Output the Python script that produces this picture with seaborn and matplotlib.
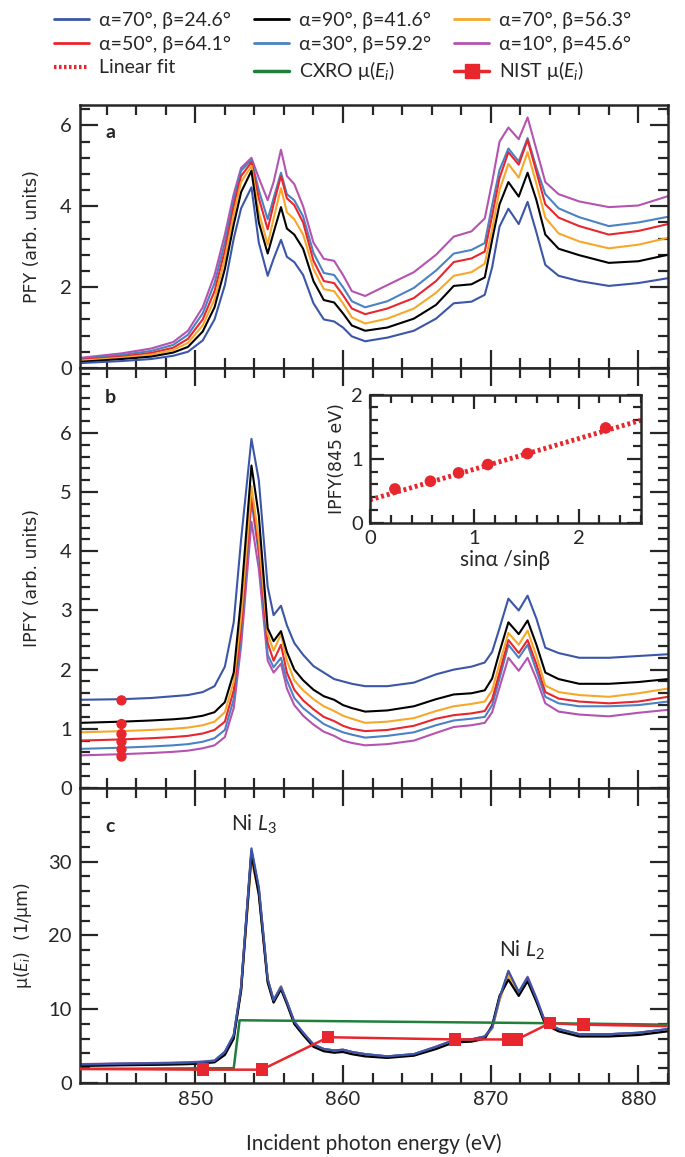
import matplotlib
matplotlib.use("Agg")
import matplotlib.pyplot as plt
import seaborn as sns
from matplotlib.ticker import MultipleLocator, FixedLocator
from matplotlib.lines import Line2D

# incident photon energy grid (eV), shared by all spectra
energy = [842.2, 845.0, 847.0, 848.5, 849.5, 850.5, 851.3, 852.0, 852.6, 853.1,
          853.8, 854.3, 854.9, 855.3, 855.8, 856.2, 856.7, 857.3, 858.0, 858.7,
          859.4, 860.0, 860.6, 861.5, 863.0, 864.8, 866.3, 867.5, 868.7, 869.6,
          870.1, 870.6, 871.2, 871.9, 872.5, 873.1, 873.7, 874.6, 876.0, 878.0,
          880.0, 882.0]

labels = ["α=70°, β=24.6°", "α=90°, β=41.6°", "α=70°, β=56.3°",
          "α=50°, β=64.1°", "α=30°, β=59.2°", "α=10°, β=45.6°"]
colors = ["#3b56a6", "#000000", "#f7a82a", "#e8262d", "#4b82c3", "#b553b1"]

# panel a: PFY
pfy_70_246 = [0.12, 0.17, 0.22, 0.3, 0.4, 0.68, 1.2, 2.05, 3.2, 3.95, 4.47, 3.1, 2.28, 2.7,
              3.17, 2.75, 2.62, 2.3, 1.6, 1.2, 1.15, 1.0, 0.78, 0.66, 0.75, 0.92, 1.22, 1.6,
              1.64, 1.81, 2.49, 3.5, 3.94, 3.56, 4.11, 3.35, 2.55, 2.28, 2.15, 2.03, 2.1, 2.22]
pfy_90_416 = [0.15, 0.22, 0.28, 0.38, 0.52, 0.9, 1.5, 2.45, 3.55, 4.35, 4.88, 3.6, 2.83, 3.35,
              3.98, 3.45, 3.3, 2.95, 2.15, 1.68, 1.62, 1.35, 1.05, 0.92, 1.0, 1.22, 1.56, 2.03,
              2.07, 2.24, 3.17, 4.05, 4.6, 4.24, 4.83, 4.15, 3.3, 2.95, 2.79, 2.6, 2.64, 2.8]
pfy_70_563 = [0.18, 0.25, 0.33, 0.44, 0.62, 1.05, 1.7, 2.7, 3.8, 4.6, 5.0, 3.85, 3.05, 3.7,
              4.45, 3.85, 3.68, 3.3, 2.45, 1.95, 1.9, 1.6, 1.25, 1.1, 1.22, 1.47, 1.86, 2.28,
              2.37, 2.58, 3.43, 4.4, 5.05, 4.71, 5.34, 4.55, 3.72, 3.33, 3.13, 2.96, 3.05, 3.22]
pfy_50_641 = [0.2, 0.28, 0.37, 0.5, 0.72, 1.2, 1.9, 2.9, 4.0, 4.75, 5.09, 4.2, 3.43, 4.05,
              4.75, 4.2, 4.03, 3.6, 2.65, 2.15, 2.1, 1.8, 1.47, 1.33, 1.47, 1.73, 2.15, 2.62,
              2.71, 2.88, 3.77, 4.7, 5.34, 5.03, 5.64, 4.85, 4.05, 3.72, 3.51, 3.3, 3.39, 3.56]
pfy_30_592 = [0.22, 0.32, 0.42, 0.57, 0.82, 1.35, 2.1, 3.1, 4.15, 4.88, 5.15, 4.4, 3.68, 4.2,
              4.83, 4.3, 4.15, 3.75, 2.85, 2.35, 2.3, 2.0, 1.65, 1.5, 1.65, 1.98, 2.41, 2.83,
              2.92, 3.09, 4.03, 4.9, 5.43, 5.11, 5.69, 4.95, 4.3, 3.95, 3.73, 3.51, 3.6, 3.74]
pfy_10_456 = [0.25, 0.36, 0.48, 0.64, 0.92, 1.5, 2.3, 3.3, 4.3, 4.95, 5.2, 4.7, 4.15, 4.6,
              5.4, 4.75, 4.55, 4.0, 3.1, 2.7, 2.65, 2.3, 1.9, 1.78, 2.05, 2.37, 2.8, 3.25,
              3.38, 3.7, 4.6, 5.6, 5.95, 5.66, 6.2, 5.4, 4.6, 4.3, 4.12, 3.98, 4.02, 4.25]

# panel b: IPFY
ipfy_70_246 = [1.49, 1.5, 1.52, 1.55, 1.57, 1.62, 1.72, 2.05, 2.8, 4.2, 5.9, 5.2, 3.4, 2.92,
               3.08, 2.75, 2.45, 2.25, 2.06, 1.95, 1.84, 1.8, 1.76, 1.72, 1.72, 1.78, 1.92, 2.0,
               2.05, 2.12, 2.3, 2.7, 3.2, 3.0, 3.25, 2.86, 2.37, 2.28, 2.2, 2.2, 2.23, 2.26]
ipfy_90_416 = [1.1, 1.12, 1.14, 1.16, 1.18, 1.22, 1.28, 1.45, 1.95, 3.2, 5.45, 4.6, 2.7, 2.48,
               2.65, 2.3, 2.0, 1.82, 1.66, 1.55, 1.49, 1.4, 1.35, 1.29, 1.31, 1.38, 1.5, 1.58,
               1.6, 1.65, 1.85, 2.3, 2.8, 2.6, 2.83, 2.42, 1.95, 1.84, 1.76, 1.76, 1.79, 1.84]
ipfy_70_563 = [0.94, 0.96, 0.98, 1.0, 1.02, 1.06, 1.12, 1.28, 1.8, 2.9, 5.1, 4.2, 2.6, 2.32,
               2.6, 2.15, 1.82, 1.65, 1.5, 1.38, 1.3, 1.22, 1.17, 1.1, 1.12, 1.18, 1.3, 1.38,
               1.42, 1.46, 1.65, 2.1, 2.62, 2.42, 2.66, 2.23, 1.73, 1.62, 1.57, 1.54, 1.6, 1.68]
ipfy_50_641 = [0.8, 0.82, 0.84, 0.86, 0.88, 0.92, 0.98, 1.12, 1.65, 2.7, 4.95, 4.05, 2.45, 2.15,
               2.42, 1.95, 1.66, 1.48, 1.33, 1.2, 1.13, 1.05, 1.0, 0.96, 0.98, 1.05, 1.17, 1.23,
               1.26, 1.3, 1.5, 1.95, 2.5, 2.28, 2.5, 2.09, 1.62, 1.51, 1.46, 1.43, 1.46, 1.54]
ipfy_30_592 = [0.66, 0.68, 0.7, 0.72, 0.74, 0.78, 0.84, 0.98, 1.5, 2.55, 4.85, 3.95, 2.25, 2.04,
               2.2, 1.82, 1.52, 1.35, 1.21, 1.08, 1.0, 0.94, 0.9, 0.85, 0.88, 0.94, 1.06, 1.14,
               1.17, 1.2, 1.4, 1.85, 2.42, 2.2, 2.42, 1.98, 1.54, 1.43, 1.38, 1.38, 1.4, 1.46]
ipfy_10_456 = [0.55, 0.57, 0.59, 0.61, 0.63, 0.67, 0.72, 0.86, 1.35, 2.4, 4.5, 3.7, 2.15, 1.95,
               2.1, 1.68, 1.4, 1.22, 1.07, 0.95, 0.88, 0.8, 0.76, 0.72, 0.74, 0.8, 0.93, 1.03,
               1.06, 1.1, 1.28, 1.7, 2.2, 1.98, 2.2, 1.84, 1.43, 1.29, 1.24, 1.21, 1.27, 1.32]

# panel c: absorption coefficient (1/um)
mu_70_246 = [2.5, 2.6, 2.65, 2.7, 2.75, 2.85, 3.0, 4.2, 6.5, 13.0, 31.8, 26.5, 14.1, 11.2,
             13.0, 11.0, 8.3, 6.8, 5.2, 4.6, 4.4, 4.5, 4.2, 3.9, 3.6, 3.9, 4.9, 5.8,
             5.9, 6.3, 7.5, 11.5, 15.2, 12.3, 14.3, 11.4, 8.2, 7.3, 6.6, 6.6, 6.8, 7.3]
mu_90_416 = [2.3, 2.4, 2.45, 2.5, 2.55, 2.65, 2.8, 3.8, 6.0, 12.5, 31.0, 25.5, 13.6, 10.9,
             12.7, 10.7, 8.0, 6.5, 4.9, 4.3, 4.1, 4.2, 3.9, 3.6, 3.4, 3.7, 4.6, 5.5,
             5.6, 6.0, 7.8, 11.8, 14.0, 11.8, 13.8, 11.0, 7.9, 7.0, 6.3, 6.3, 6.5, 7.0]
mu_70_563 = [2.4, 2.5, 2.55, 2.6, 2.65, 2.75, 2.9, 4.0, 6.2, 12.7, 30.2, 25.8, 13.9, 11.0,
             13.1, 10.9, 8.1, 6.6, 5.0, 4.4, 4.2, 4.3, 4.0, 3.7, 3.45, 3.75, 4.7, 5.6,
             5.7, 6.1, 7.4, 11.2, 14.6, 12.0, 13.9, 11.1, 8.0, 7.1, 6.4, 6.4, 6.6, 7.1]
mu_50_641 = [2.45, 2.55, 2.6, 2.65, 2.7, 2.8, 2.95, 4.1, 6.3, 12.8, 31.2, 26.0, 13.9, 11.1,
             12.9, 10.9, 8.2, 6.7, 5.1, 4.5, 4.3, 4.4, 4.1, 3.8, 3.5, 3.8, 4.8, 5.7,
             5.8, 6.2, 7.5, 11.4, 14.8, 12.1, 14.0, 11.2, 8.1, 7.2, 6.5, 6.5, 6.7, 7.2]
mu_30_592 = [2.5, 2.6, 2.65, 2.7, 2.75, 2.85, 3.0, 4.2, 6.4, 13.0, 31.5, 26.3, 14.0, 11.2,
             13.0, 11.0, 8.3, 6.8, 5.2, 4.6, 4.4, 4.5, 4.2, 3.9, 3.6, 3.9, 4.9, 5.8,
             5.9, 6.3, 7.6, 11.6, 15.0, 12.2, 14.2, 11.3, 8.2, 7.3, 6.6, 6.6, 6.8, 7.3]
mu_10_456 = [2.55, 2.65, 2.7, 2.75, 2.8, 2.9, 3.05, 4.2, 6.4, 12.9, 31.4, 26.2, 14.0, 11.2,
             13.1, 11.0, 8.3, 6.8, 5.2, 4.6, 4.4, 4.5, 4.2, 3.9, 3.6, 3.9, 4.9, 5.8,
             5.9, 6.3, 7.4, 11.3, 15.0, 12.3, 14.4, 11.5, 8.2, 7.3, 6.6, 6.6, 6.8, 7.3]

# IPFY at 845 eV vs sin(alpha)/sin(beta), same order as labels
ratio = [2.26, 1.51, 1.13, 0.85, 0.58, 0.24]
ipfy_845 = [1.48, 1.08, 0.91, 0.78, 0.65, 0.53]
fit_x = [0.0, 2.6]
fit_y = [0.36, 1.6]

# tabulated absorption coefficients
cxro_e = [842.2, 852.6, 853.0, 874.0, 882.0]
cxro_mu = [1.9, 2.0, 8.5, 8.1, 7.9]
nist_e = [842.2, 850.5, 854.5, 859.0, 867.6, 871.2, 871.8, 874.0, 876.3, 882.0]
nist_mu = [1.9, 1.8, 1.8, 6.2, 5.9, 5.9, 5.9, 8.1, 7.9, 7.7]

sns.set_style("ticks")
plt.rcParams['font.family'] = ['Lato', 'DejaVu Sans']
plt.rcParams['mathtext.fontset'] = 'custom'
plt.rcParams['mathtext.rm'] = 'Lato'
plt.rcParams['mathtext.it'] = 'Lato:italic'

RED = "#e8262d"
GREEN = "#1f7f3b"
LABEL_FONT = ['DejaVu Sans']


def style_axis(ax, yticks, yminor):
    ax.yaxis.set_major_locator(FixedLocator(yticks))
    ax.yaxis.set_minor_locator(MultipleLocator(yminor))
    ax.xaxis.set_major_locator(MultipleLocator(10))
    ax.xaxis.set_minor_locator(MultipleLocator(2))
    ax.tick_params(which='major', direction='in', top=True, right=True,
                   length=13, width=1.6, labelsize=14.5, pad=6)
    ax.tick_params(which='minor', direction='in', top=True, right=True,
                   length=7, width=1.6)
    for s in ax.spines.values():
        s.set_linewidth(1.8)


def draw_spectra(ax, curves, lw=1.5):
    for col, vals in curves:
        sns.lineplot(x=energy, y=vals, ax=ax, color=col, lw=lw,
                     sort=False, estimator=None)


fig = plt.figure(figsize=(6.85, 11.57), dpi=100)
left, width = 0.117, 0.858
ax_a = fig.add_axes([left, 0.682, width, 0.227])
ax_b = fig.add_axes([left, 0.319, width, 0.363], sharex=ax_a)
ax_c = fig.add_axes([left, 0.064, width, 0.255], sharex=ax_a)

pfy = [pfy_70_246, pfy_90_416, pfy_70_563, pfy_50_641, pfy_30_592, pfy_10_456]
ipfy = [ipfy_70_246, ipfy_90_416, ipfy_70_563, ipfy_50_641, ipfy_30_592, ipfy_10_456]
mus = [mu_70_246, mu_90_416, mu_70_563, mu_50_641, mu_30_592, mu_10_456]

# panel a
draw_spectra(ax_a, list(zip(colors, pfy))[::-1])
ax_a.set_ylim(0, 6.5)
style_axis(ax_a, [0, 2, 4, 6], 0.4)
ax_a.set_ylabel("PFY (arb. units)", fontsize=12.5, family=LABEL_FONT, labelpad=14)
ax_a.text(0.051, 0.895, "a", transform=ax_a.transAxes, fontsize=14,
          fontweight='bold', ha='center', va='center')

# panel b
draw_spectra(ax_b, list(zip(colors, ipfy))[::-1])
sns.scatterplot(x=[845.0] * len(ipfy_845), y=ipfy_845, ax=ax_b, color=RED,
                s=55, edgecolor='none', zorder=5)
ax_b.set_ylim(0, 7.1)
style_axis(ax_b, [0, 1, 2, 3, 4, 5, 6], 0.2)
ax_b.set_ylabel("IPFY (arb. units)", fontsize=12.5, family=LABEL_FONT, labelpad=14)
ax_b.text(0.051, 0.93, "b", transform=ax_b.transAxes, fontsize=14,
          fontweight='bold', ha='center', va='center')

# panel c
draw_spectra(ax_c, list(zip(colors, mus))[::-1], lw=1.6)
sns.lineplot(x=cxro_e, y=cxro_mu, ax=ax_c, color=GREEN, lw=1.8, sort=False,
             estimator=None, zorder=4)
sns.lineplot(x=nist_e, y=nist_mu, ax=ax_c, color=RED, lw=1.8, sort=False,
             estimator=None, zorder=5)
sns.scatterplot(x=nist_e[1:-1], y=nist_mu[1:-1], ax=ax_c, color=RED, marker='s',
                s=80, edgecolor='none', zorder=6)
ax_c.set_ylim(0, 40)
style_axis(ax_c, [0, 10, 20, 30], 2)
ax_c.set_ylabel("μ($E_i$)  (1/μm)", fontsize=12.5, family=LABEL_FONT, labelpad=10)
ax_c.set_xlabel("Incident photon energy (eV)", fontsize=15, labelpad=18)
ax_c.text(0.051, 0.87, "c", transform=ax_c.transAxes, fontsize=14,
          fontweight='bold', ha='center', va='center')
ax_c.text(854.0, 35.0, "Ni $L_3$", fontsize=15, ha='center', va='center')
ax_c.text(872.1, 18.0, "Ni $L_2$", fontsize=15, ha='center', va='center')

plt.setp(ax_a.get_xticklabels(), visible=False)
plt.setp(ax_b.get_xticklabels(), visible=False)
ax_c.set_xlim(842.2, 882)

# inset
ax_in = fig.add_axes([0.540, 0.548, 0.396, 0.111])
sns.lineplot(x=fit_x, y=fit_y, ax=ax_in, color=RED, lw=3.5, linestyle=(0, (0.6, 0.6)))
sns.scatterplot(x=ratio, y=ipfy_845, ax=ax_in, color=RED, s=70, edgecolor='none', zorder=5)
ax_in.set_xlim(0, 2.6)
ax_in.set_ylim(0, 2)
ax_in.xaxis.set_major_locator(MultipleLocator(1))
ax_in.xaxis.set_minor_locator(MultipleLocator(0.2))
ax_in.yaxis.set_major_locator(MultipleLocator(1))
ax_in.yaxis.set_minor_locator(MultipleLocator(0.2))
ax_in.tick_params(which='major', direction='in', top=True, right=True,
                  length=10, width=1.6, labelsize=14.5, pad=5)
ax_in.tick_params(which='minor', direction='in', top=True, right=True,
                  length=5.5, width=1.6)
for s in ax_in.spines.values():
    s.set_linewidth(1.8)
ax_in.set_xlabel("sinα /sinβ", fontsize=15, labelpad=2)
ax_in.set_ylabel("IPFY(845 eV)", fontsize=12.5, family=LABEL_FONT, labelpad=4)

# legend at the top (filled column by column)
handles = [
    Line2D([], [], color=colors[0], lw=2),
    Line2D([], [], color=colors[3], lw=2),
    Line2D([], [], color=RED, lw=3, linestyle=(0, (0.6, 0.6))),
    Line2D([], [], color=colors[1], lw=2),
    Line2D([], [], color=colors[4], lw=2),
    Line2D([], [], color=GREEN, lw=2.5),
    Line2D([], [], color=colors[2], lw=2),
    Line2D([], [], color=colors[5], lw=2),
    Line2D([], [], color=RED, lw=2.5, marker='s', markersize=10),
]
texts = [labels[0], labels[3], "Linear fit",
         labels[1], labels[4], "CXRO μ($E_i$)",
         labels[2], labels[5], "NIST μ($E_i$)"]
fig.legend(handles, texts, ncol=3, loc='upper center', bbox_to_anchor=(0.5, 1.005),
           frameon=False, fontsize=14, handlelength=1.8, handletextpad=0.5,
           columnspacing=1.2, labelspacing=0.35)

fig.savefig("out.png", dpi=100)
